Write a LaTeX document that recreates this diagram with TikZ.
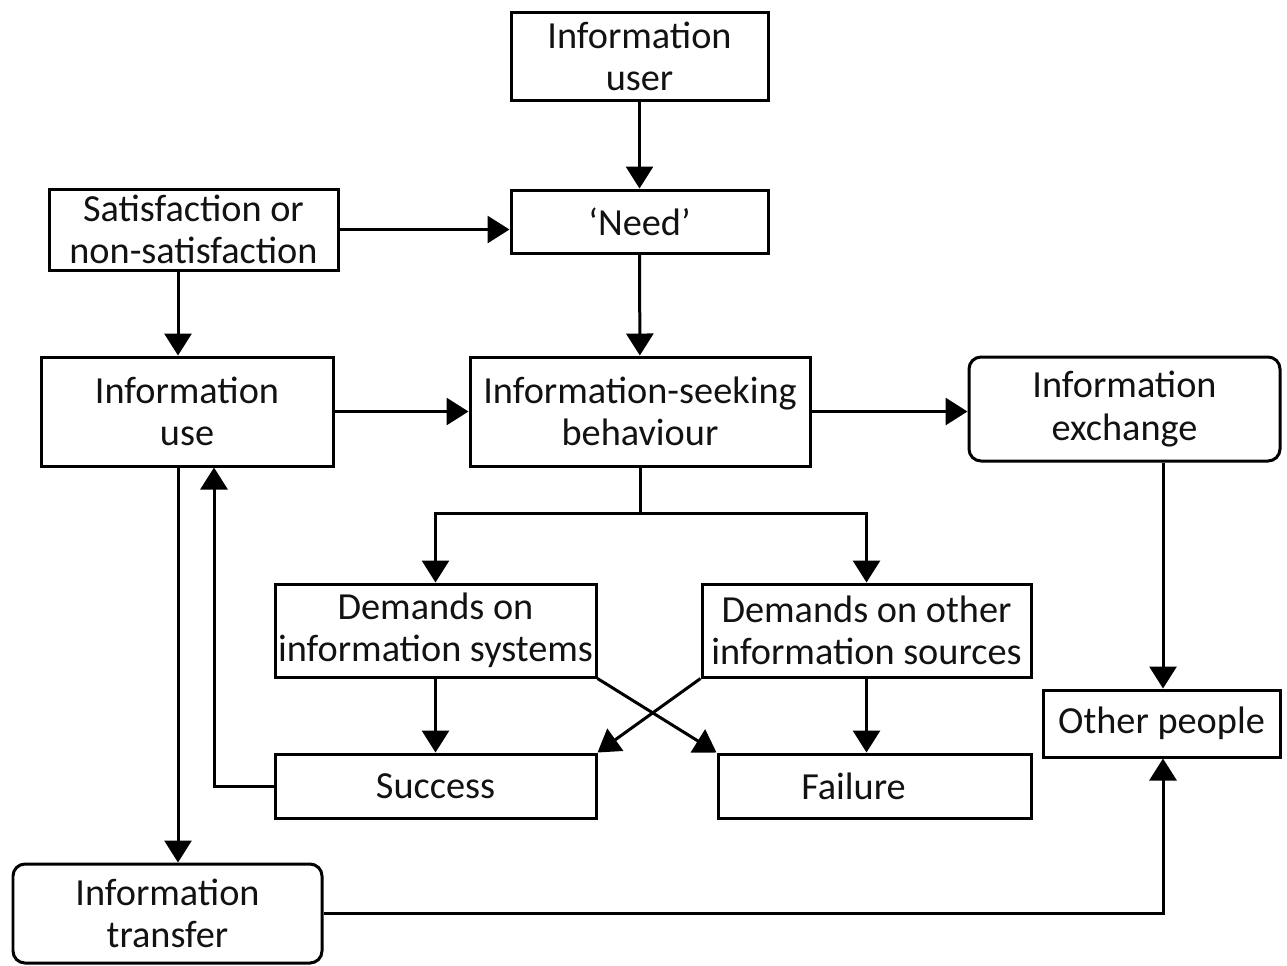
\documentclass[tikz,border=0pt]{standalone}
\usepackage{fontspec}
\setmainfont{Carlito}
\usetikzlibrary{arrows.meta}
\begin{document}
\begin{tikzpicture}[x=0.02cm,y=-0.02cm,
  box/.style 2 args={draw, line width=0.06cm, inner sep=0pt, align=center,
    minimum width=#1*0.02cm, minimum height=#2*0.02cm,
    font=\fontsize{21.8pt}{24pt}\selectfont, text=black!93},
  rbox/.style 2 args={box={#1}{#2}, rounded corners=0.24cm},
  arr/.style={line width=0.06cm, -{Triangle[width=0.54cm,length=0.44cm]}},
  link/.style={line width=0.06cm}]
\useasboundingbox (0,0) rectangle (1287,965);

% boxes
\node[box={257}{88}]  (user)  at (639.5,56)    {Information\\user};
\node[box={257}{63}]  (need)  at (639.5,221.5) {‘Need’};
\node[box={289}{81}]  (sat)   at (193.5,229.5) {Satisfaction or\\non-satisfaction};
\node[box={292}{109}] (use)   at (187,411.5)   {Information\\use};
\node[box={340}{109}] (isb)   at (640,411.5)   {Information-seeking\\behaviour};
\node[rbox={311}{104}] (exch) at (1124.5,409)  {Information\\exchange};
\node[box={321}{93}]  (dsys)  at (435.5,630.5) {Demands on\\information systems};
\node[box={329}{93}]  (doth)  at (866.5,630.5) {Demands on other\\information sources};
\node[box={321}{64}]  (succ)  at (435.5,786)   {Success};
\node[box={313}{64}]  (fail)  at (874.5,786)   {Failure\hspace*{0.84cm}};
\node[box={237}{67}]  (other) at (1161.5,723.5) {Other people};
\node[rbox={309}{99}] (trans) at (167.5,913.5) {Information\\transfer};

% routing columns and the branch point below the seeking box
\coordinate (xL) at (178,0);
\coordinate (xR) at (214,0);
\coordinate (xO) at (1163,0);
\coordinate (split) at (640,513);

% connectors
\draw[arr] (user) -- (need);
\draw[arr] (sat.east) -- (sat.east -| need.west);
\draw[arr] (sat.south -| xL) -- (use.north -| xL);
\draw[arr] (need) -- (isb);
\draw[arr] (use.east) -- (use.east -| isb.west);
\draw[arr] (isb.east) -- (isb.east -| exch.west);
\draw[link] (isb.south) -- (split);
\draw[arr] (split) -| (dsys.north);
\draw[arr] (split) -| (doth.north);
\draw[arr] (dsys) -- (succ);
\draw[arr] (doth.south) -- (doth.south |- fail.north);
\draw[arr] (dsys.south east) -- (fail.north west);
\draw[arr] (doth.south west) -- (succ.north east);
\draw[arr] (succ.west) -| (use.south -| xR);
\draw[arr] (use.south -| xL) -- (trans.north -| xL);
\draw[arr] (exch.south -| xO) -- (other.north -| xO);
\draw[arr] (trans.east) -| (other.south -| xO);
\end{tikzpicture}
\end{document}
